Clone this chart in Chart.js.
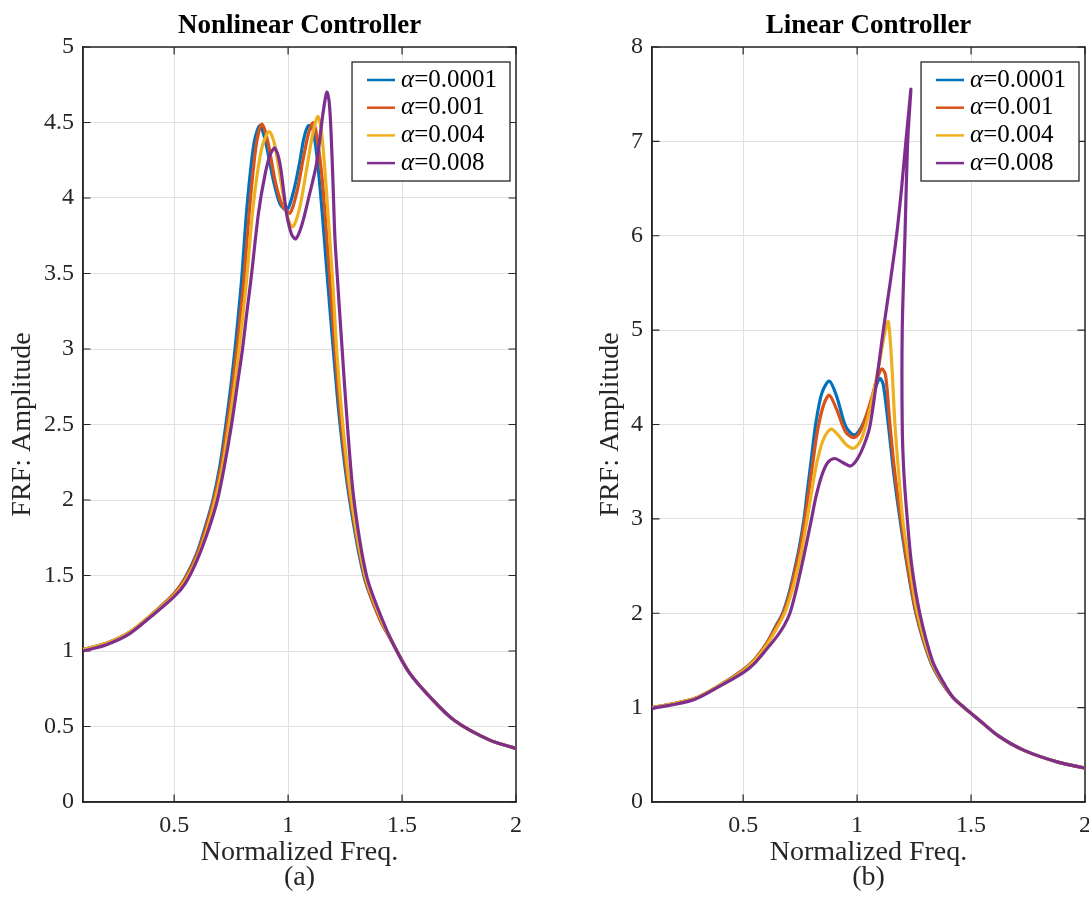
<!DOCTYPE html>
<html>
<head>
<meta charset="utf-8">
<script src="https://cdn.jsdelivr.net/npm/chart.js@4.4.0/dist/chart.umd.min.js"></script>
<style>
  html, body { margin: 0; padding: 0; background: #ffffff; }
  .panel { position: absolute; top: 0; }
</style>
</head>
<body>
<div class="panel" style="left:0px;"><canvas id="left" width="545" height="898" style="width:545px;height:898px;"></canvas></div>
<div class="panel" style="left:569px;"><canvas id="right" width="520" height="898" style="width:520px;height:898px;"></canvas></div>
<script>
// ---------------- data ----------------
const seriesLabels = ['α=0.0001', 'α=0.001', 'α=0.004', 'α=0.008'];
const xTicks = [0.5, 1, 1.5, 2];
const yTicksNonlinear = [0, 0.5, 1, 1.5, 2, 2.5, 3, 3.5, 4, 4.5, 5];
const yTicksLinear = [0, 1, 2, 3, 4, 5, 6, 7, 8];

// (a) Nonlinear Controller
const nlFreq1 = [0.1,0.2,0.3,0.4,0.5,0.55,0.6,0.64,0.67,0.70,0.727,0.75,0.767,0.782,0.796,0.82,0.85,0.876,0.90,0.935,0.965,0.995,1.025,1.05,1.07,1.09,1.11,1.137,1.173,1.198,1.228,1.27,1.332,1.40,1.46,1.53,1.62,1.73,1.885,2.0];
const nlAmp1  = [1.01,1.05,1.12,1.24,1.38,1.49,1.65,1.84,2.0,2.22,2.5,2.77,3.0,3.23,3.46,3.95,4.36,4.48,4.38,4.12,3.96,3.92,4.05,4.23,4.4,4.48,4.45,4.12,3.46,3.0,2.5,2.0,1.5,1.22,1.05,0.86,0.70,0.54,0.41,0.355];
const nlFreq2 = [0.1,0.2,0.3,0.4,0.5,0.552,0.603,0.644,0.674,0.705,0.733,0.757,0.775,0.791,0.806,0.832,0.861,0.885,0.91,0.945,0.975,1.008,1.04,1.065,1.09,1.109,1.125,1.15,1.183,1.205,1.233,1.274,1.335,1.40,1.46,1.53,1.62,1.73,1.885,2.0];
const nlAmp2  = [1.01,1.05,1.12,1.24,1.38,1.49,1.65,1.84,2.0,2.22,2.5,2.77,3.0,3.23,3.46,3.95,4.36,4.49,4.38,4.1,3.95,3.90,4.05,4.25,4.43,4.50,4.42,4.12,3.46,3.0,2.5,2.0,1.5,1.22,1.05,0.86,0.70,0.54,0.41,0.355];
const nlFreq3 = [0.1,0.2,0.3,0.4,0.5,0.555,0.607,0.649,0.68,0.712,0.741,0.766,0.785,0.802,0.818,0.847,0.883,0.916,0.94,0.975,1.0,1.021,1.05,1.08,1.11,1.131,1.148,1.168,1.195,1.213,1.24,1.278,1.338,1.405,1.46,1.53,1.62,1.73,1.885,2.0];
const nlAmp3  = [1.01,1.05,1.12,1.24,1.37,1.48,1.64,1.83,2.0,2.22,2.5,2.77,3.0,3.23,3.46,3.95,4.32,4.44,4.36,4.05,3.86,3.81,3.93,4.18,4.44,4.54,4.42,4.05,3.46,3.0,2.5,2.0,1.5,1.22,1.05,0.86,0.70,0.54,0.41,0.355];
const nlFreq4 = [0.1,0.2,0.3,0.4,0.5,0.55,0.6,0.65,0.69,0.72,0.752,0.778,0.80,0.818,0.837,0.87,0.898,0.922,0.942,0.965,0.993,1.015,1.034,1.06,1.09,1.125,1.153,1.17,1.18,1.188,1.197,1.205,1.215,1.237,1.26,1.289,1.344,1.41,1.46,1.53,1.62,1.73,1.885,2.0];
const nlAmp4  = [1.0,1.04,1.11,1.23,1.36,1.45,1.6,1.8,2.0,2.22,2.5,2.77,3.0,3.23,3.46,3.9,4.15,4.29,4.33,4.22,3.90,3.76,3.73,3.82,4.0,4.23,4.56,4.70,4.64,4.45,4.1,3.75,3.5,3.0,2.5,2.0,1.5,1.22,1.05,0.86,0.70,0.54,0.41,0.355];

// (b) Linear Controller
const linFreq1 = [0.1,0.28,0.4,0.5,0.55,0.6,0.64,0.673,0.70,0.72,0.745,0.767,0.782,0.80,0.818,0.845,0.878,0.91,0.95,0.987,1.02,1.06,1.085,1.10,1.115,1.137,1.16,1.188,1.22,1.258,1.32,1.37,1.42,1.47,1.53,1.62,1.73,1.885,2.0];
const linAmp1  = [1.0,1.09,1.24,1.40,1.51,1.67,1.85,2.0,2.2,2.4,2.68,3.0,3.3,3.65,4.0,4.33,4.46,4.3,3.98,3.89,3.98,4.22,4.42,4.49,4.42,4.0,3.5,3.0,2.5,2.0,1.5,1.27,1.11,1.0,0.88,0.70,0.55,0.42,0.36];
const linFreq2 = [0.1,0.28,0.4,0.5,0.55,0.6,0.642,0.676,0.703,0.723,0.749,0.771,0.787,0.806,0.826,0.852,0.878,0.91,0.95,0.987,1.02,1.06,1.09,1.109,1.125,1.144,1.165,1.192,1.222,1.26,1.322,1.372,1.42,1.47,1.53,1.62,1.73,1.885,2.0];
const linAmp2  = [1.0,1.09,1.24,1.40,1.51,1.67,1.85,2.0,2.2,2.4,2.68,3.0,3.28,3.6,3.93,4.2,4.31,4.16,3.92,3.86,3.96,4.25,4.5,4.59,4.52,4.0,3.5,3.0,2.5,2.0,1.5,1.27,1.11,1.0,0.88,0.70,0.55,0.42,0.36];
const linFreq3 = [0.1,0.28,0.4,0.5,0.55,0.6,0.645,0.682,0.71,0.732,0.758,0.781,0.80,0.822,0.85,0.885,0.92,0.955,0.987,1.02,1.06,1.095,1.12,1.137,1.153,1.166,1.182,1.20,1.23,1.265,1.325,1.375,1.42,1.47,1.53,1.62,1.73,1.885,2.0];
const linAmp3  = [1.0,1.09,1.24,1.39,1.5,1.65,1.83,2.0,2.2,2.4,2.68,3.0,3.28,3.58,3.83,3.95,3.88,3.78,3.75,3.85,4.2,4.62,4.95,5.09,4.6,4.0,3.5,3.0,2.5,2.0,1.5,1.27,1.11,1.0,0.88,0.70,0.55,0.42,0.36];
const linFreq4 = [0.1,0.28,0.4,0.5,0.55,0.6,0.65,0.68,0.705,0.73,0.755,0.778,0.80,0.82,0.845,0.872,0.903,0.935,0.971,1.0,1.03,1.056,1.085,1.115,1.145,1.173,1.195,1.214,1.228,1.236,1.222,1.21,1.198,1.198,1.205,1.22,1.24,1.275,1.33,1.378,1.42,1.47,1.53,1.62,1.73,1.885,2.0];
const linAmp4  = [0.99,1.08,1.23,1.37,1.47,1.61,1.76,1.87,2.0,2.22,2.48,2.74,3.0,3.24,3.46,3.6,3.64,3.6,3.56,3.63,3.78,3.98,4.45,5.0,5.5,6.0,6.5,7.0,7.35,7.55,7.0,6.0,5.0,4.0,3.5,3.0,2.5,2.0,1.5,1.27,1.11,1.0,0.88,0.70,0.55,0.42,0.36];

// ---------------- styling / chart construction ----------------
const FONT = '"Liberation Serif", "Times New Roman", Times, serif';
const INK = '#262626';
const palette = ['#0072BD', '#D95319', '#EDB120', '#7E2F8E'];

Chart.defaults.font.family = FONT;
Chart.defaults.color = INK;

function buildDatasets(freqs, amps) {
  return freqs.map((f, k) => ({
    label: seriesLabels[k],
    data: f.map((x, i) => ({ x: x, y: amps[k][i] })),
    showLine: true,
    borderColor: palette[k],
    backgroundColor: palette[k],
    borderWidth: 3.2,
    pointRadius: 0,
    pointHoverRadius: 0,
    tension: 0.3,
    fill: false,
    order: freqs.length - 1 - k
  }));
}

const framePlugin = {
  id: 'matlabFrame',
  beforeDatasetsDraw(chart) {
    const { ctx, chartArea: a } = chart;
    const xs = chart.scales.x, ys = chart.scales.y;
    const L = 7.5;
    ctx.save();
    ctx.strokeStyle = INK;
    ctx.lineWidth = 1.2;
    ctx.beginPath();
    xs.ticks.forEach(t => {
      const p = xs.getPixelForValue(t.value);
      ctx.moveTo(p, a.bottom); ctx.lineTo(p, a.bottom - L);
      ctx.moveTo(p, a.top); ctx.lineTo(p, a.top + L);
    });
    ys.ticks.forEach(t => {
      const p = ys.getPixelForValue(t.value);
      ctx.moveTo(a.left, p); ctx.lineTo(a.left + L, p);
      ctx.moveTo(a.right, p); ctx.lineTo(a.right - L, p);
    });
    ctx.stroke();
    ctx.lineWidth = 1.5;
    ctx.strokeRect(a.left, a.top, a.right - a.left, a.bottom - a.top);
    ctx.restore();
  },
  afterDraw(chart) {
    const { ctx, chartArea: a } = chart;
    const size = 25;
    const dsets = chart.data.datasets;
    ctx.save();
    let maxW = 0;
    dsets.forEach(ds => {
      ctx.font = 'italic ' + size + 'px ' + FONT;
      let w = ctx.measureText(ds.label.slice(0, 1)).width;
      ctx.font = size + 'px ' + FONT;
      w += ctx.measureText(ds.label.slice(1)).width;
      maxW = Math.max(maxW, w);
    });
    const rowH = 27.7;
    const bw = 49 + maxW + 13;
    const bh = 119;
    const bx = a.right - 6 - bw;
    const by = a.top + 15;
    ctx.fillStyle = '#ffffff';
    ctx.fillRect(bx, by, bw, bh);
    ctx.strokeStyle = INK;
    ctx.lineWidth = 1.3;
    ctx.strokeRect(bx, by, bw, bh);
    dsets.forEach((ds, i) => {
      const cy = by + 18 + i * rowH;
      ctx.strokeStyle = ds.borderColor;
      ctx.lineWidth = 2.5;
      ctx.beginPath();
      ctx.moveTo(bx + 15, cy);
      ctx.lineTo(bx + 43, cy);
      ctx.stroke();
      ctx.fillStyle = '#000000';
      ctx.textBaseline = 'middle';
      ctx.textAlign = 'left';
      ctx.font = 'italic ' + size + 'px ' + FONT;
      const g = ds.label.slice(0, 1);
      ctx.fillText(g, bx + 49, cy);
      const gw = ctx.measureText(g).width;
      ctx.font = size + 'px ' + FONT;
      ctx.fillText(ds.label.slice(1), bx + 49 + gw, cy);
    });
    ctx.restore();
  }
};

function makeChart(canvasId, titleText, tagText, datasets, yMax, yTicks, yTitlePad, padRight) {
  return new Chart(document.getElementById(canvasId), {
    type: 'scatter',
    data: { datasets: datasets },
    plugins: [framePlugin],
    options: {
      responsive: false,
      animation: false,
      devicePixelRatio: 1,
      events: [],
      layout: { padding: { left: 0, right: padRight, top: 0, bottom: 8 } },
      plugins: {
        legend: { display: false },
        tooltip: { enabled: false },
        title: {
          display: true,
          text: titleText,
          color: '#000000',
          fullSize: false,
          font: { size: 27, weight: 'bold', family: FONT },
          padding: { top: 10, bottom: 4.6 }
        }
      },
      scales: {
        x: {
          type: 'linear',
          min: 0.1,
          max: 2,
          afterBuildTicks: s => { s.ticks = xTicks.map(v => ({ value: v })); },
          afterFit: s => { s.height = 88; s.paddingLeft = 0; s.paddingRight = 0; },
          grid: { color: '#e0e0e0', lineWidth: 1, drawTicks: false },
          border: { display: true, color: INK, width: 1.5 },
          ticks: { padding: 9, color: INK, autoSkip: false, maxRotation: 0, font: { size: 24 }, callback: v => String(v) },
          title: { display: true, text: ['Normalized Freq.', tagText], color: INK, padding: 0, font: { size: 28, lineHeight: 0.9 } }
        },
        y: {
          type: 'linear',
          min: 0,
          max: yMax,
          afterBuildTicks: s => { s.ticks = yTicks.map(v => ({ value: v })); },
          afterFit: s => { s.width = 83; },
          grid: { color: '#e0e0e0', lineWidth: 1, drawTicks: false },
          border: { display: true, color: INK, width: 1.5 },
          ticks: { padding: 9, color: INK, font: { size: 24 }, callback: v => String(v) },
          title: { display: true, text: 'FRF: Amplitude', color: INK, padding: { top: yTitlePad, bottom: 0 }, font: { size: 28 } }
        }
      }
    }
  });
}

makeChart('left', 'Nonlinear Controller', '(a)',
  buildDatasets([nlFreq1, nlFreq2, nlFreq3, nlFreq4], [nlAmp1, nlAmp2, nlAmp3, nlAmp4]),
  5, yTicksNonlinear, 6, 29);

makeChart('right', 'Linear Controller', '(b)',
  buildDatasets([linFreq1, linFreq2, linFreq3, linFreq4], [linAmp1, linAmp2, linAmp3, linAmp4]),
  8, yTicksLinear, 25, 4);
</script>
</body>
</html>
